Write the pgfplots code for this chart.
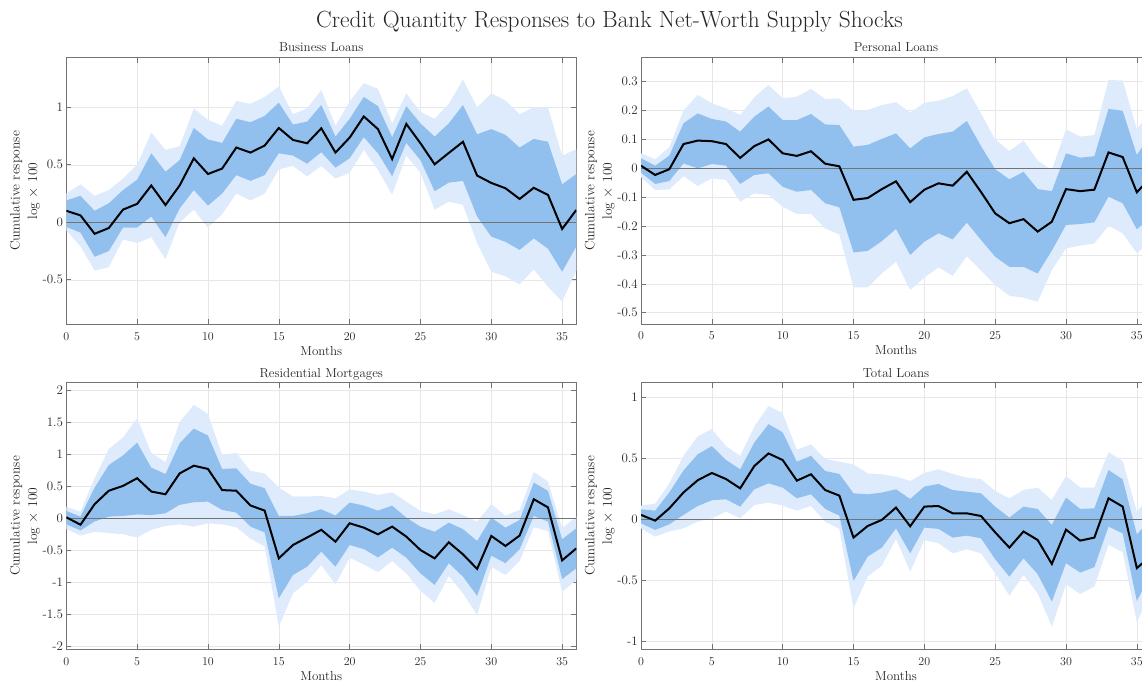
\documentclass[border=0pt]{standalone}
\usepackage{pgfplots}
\pgfplotsset{compat=1.18}
\definecolor{bandlight}{RGB}{222,235,253}
\definecolor{banddark}{RGB}{146,192,238}
\definecolor{axgray}{RGB}{115,115,115}
\definecolor{gridgray}{RGB}{231,231,231}
\definecolor{txt}{RGB}{38,38,38}

\pgfplotsset{
  resp/.style={
    scale only axis, width=510pt, height=266.6pt,
    xmin=0, xmax=36, xtick={0,5,...,35},
    grid=major, major grid style={draw=gridgray, line width=0.5pt},
    axis line style={draw=axgray, line width=0.6pt},
    tick style={draw=axgray, line width=0.6pt},
    tick align=inside, major tick length=5pt,
    ticklabel style={font=\fontsize{13}{15}\selectfont, text=txt},
    xticklabel style={anchor=base, yshift=-15.7pt},
    yticklabel style={anchor=east, inner sep=0pt, xshift=-3pt},
    title style={font=\fontsize{13}{15}\selectfont, text=txt, anchor=base, yshift=-0.3pt},
    xlabel={Months},
    xlabel style={font=\fontsize{13}{15}\selectfont, text=txt, at={(axis description cs:0.5,0)}, anchor=base, yshift=-30.7pt},
    ylabel={Cumulative response\\log $\times$ 100},
    ylabel style={font=\fontsize{13.5}{17.5}\selectfont, text=txt, align=center, at={(axis description cs:-0.081,0.5)}, anchor=center},
  },
  light/.style={fill=bandlight, draw=none},
  dark/.style={fill=banddark, draw=none},
  zero/.style={axgray, line width=0.6pt},
  med/.style={black, line width=2pt},
}

\begin{document}
\begin{tikzpicture}

\node[font=\fontsize{23.4}{28}\selectfont, text=txt, anchor=base] at (609.5pt,-28pt)
  {Credit Quantity Responses to Bank Net-Worth Supply Shocks};

% ---------------- Business Loans ----------------
\begin{axis}[resp, at={(66.3pt,-57.7pt)}, anchor=north west,
  title={Business Loans}, ymin=-0.887, ymax=1.431,
  ytick={-0.5,0,0.5,1}, yticklabels={-0.5,0,0.5,1}]
% 90% band: upper bound forward, lower bound backward
\addplot[light] coordinates {
(0,0.25)(1,0.33)(2,0.23)(3,0.28)(4,0.38)(5,0.50)(6,0.78)(7,0.63)(8,0.66)(9,0.99)
(10,0.89)(11,0.84)(12,1.055)(13,1.03)(14,1.09)(15,1.18)(16,0.94)(17,0.99)(18,1.15)(19,0.84)
(20,1.05)(21,1.21)(22,1.16)(23,0.86)(24,1.12)(25,0.96)(26,0.90)(27,1.03)(28,1.24)(29,1.0)
(30,1.12)(31,1.06)(32,0.94)(33,1.0)(34,1.0)(35,0.58)(36,0.635)
(36,-0.42)(35,-0.69)(34,-0.56)(33,-0.41)(32,-0.54)(31,-0.47)(30,-0.43)(29,-0.18)(28,0.15)(27,0.18)
(26,0.11)(25,0.43)(24,0.58)(23,0.24)(22,0.455)(21,0.63)(20,0.43)(19,0.38)(18,0.49)(17,0.40)
(16,0.49)(15,0.46)(14,0.25)(13,0.19)(12,0.25)(11,0.07)(10,-0.046)(9,0.11)(8,0.00)(7,-0.32)
(6,-0.13)(5,-0.18)(4,-0.15)(3,-0.39)(2,-0.42)(1,-0.21)(0,-0.07)} -- cycle;
% 68% band
\addplot[dark] coordinates {
(0,0.19)(1,0.23)(2,0.10)(3,0.165)(4,0.28)(5,0.37)(6,0.60)(7,0.44)(8,0.54)(9,0.82)
(10,0.72)(11,0.69)(12,0.90)(13,0.87)(14,0.925)(15,1.04)(16,0.85)(17,0.875)(18,1.02)(19,0.745)
(20,0.90)(21,1.09)(22,1.01)(23,0.74)(24,1.01)(25,0.86)(26,0.745)(27,0.86)(28,1.02)(29,0.765)
(30,0.81)(31,0.76)(32,0.65)(33,0.725)(34,0.70)(35,0.33)(36,0.42)
(36,-0.21)(35,-0.43)(34,-0.23)(33,-0.14)(32,-0.24)(31,-0.17)(30,-0.125)(29,0.05)(28,0.36)(27,0.345)
(26,0.27)(25,0.54)(24,0.69)(23,0.40)(22,0.60)(21,0.74)(20,0.556)(19,0.475)(18,0.61)(17,0.51)
(16,0.58)(15,0.60)(14,0.41)(13,0.36)(12,0.41)(11,0.25)(10,0.145)(9,0.28)(8,0.12)(7,-0.13)
(6,0.05)(5,-0.046)(4,-0.046)(3,-0.25)(2,-0.30)(1,-0.09)(0,-0.04)} -- cycle;
\addplot[zero] coordinates {(0,0) (36,0)};
\addplot[med] coordinates {
(0,0.10)(1,0.06)(2,-0.10)(3,-0.05)(4,0.11)(5,0.16)(6,0.32)(7,0.15)(8,0.32)(9,0.556)
(10,0.42)(11,0.467)(12,0.65)(13,0.606)(14,0.667)(15,0.82)(16,0.716)(17,0.687)(18,0.817)(19,0.606)
(20,0.736)(21,0.92)(22,0.81)(23,0.55)(24,0.855)(25,0.687)(26,0.504)(27,0.603)(28,0.70)(29,0.406)
(30,0.342)(31,0.296)(32,0.203)(33,0.30)(34,0.238)(35,-0.058)(36,0.107)};
\end{axis}

% ---------------- Personal Loans ----------------
\begin{axis}[resp, at={(641pt,-57.7pt)}, anchor=north west,
  title={Personal Loans}, ymin=-0.540, ymax=0.383,
  ytick={-0.5,-0.4,-0.3,-0.2,-0.1,0,0.1,0.2,0.3},
  yticklabels={-0.5,-0.4,-0.3,-0.2,-0.1,0,0.1,0.2,0.3}]
\addplot[light] coordinates {
(0,0.052)(1,0.031)(2,0.073)(3,0.20)(4,0.254)(5,0.225)(6,0.208)(7,0.185)(8,0.246)(9,0.289)
(10,0.242)(11,0.248)(12,0.275)(13,0.24)(14,0.242)(15,0.199)(16,0.202)(17,0.219)(18,0.229)(19,0.193)
(20,0.227)(21,0.234)(22,0.25)(23,0.277)(24,0.19)(25,0.10)(26,0.06)(27,0.096)(28,0.027)(29,-0.006)
(30,0.135)(31,0.11)(32,0.115)(33,0.306)(34,0.304)(35,0.135)(36,0.20)
(36,-0.25)(35,-0.294)(34,-0.225)(33,-0.199)(32,-0.26)(31,-0.268)(30,-0.277)(29,-0.352)(28,-0.462)(27,-0.448)
(26,-0.441)(25,-0.404)(24,-0.354)(23,-0.304)(22,-0.372)(21,-0.343)(20,-0.378)(19,-0.421)(18,-0.323)(17,-0.364)
(16,-0.412)(15,-0.412)(14,-0.229)(13,-0.208)(12,-0.158)(11,-0.158)(10,-0.133)(9,-0.092)(8,-0.087)(7,-0.115)
(6,-0.04)(5,-0.035)(4,-0.061)(3,-0.027)(2,-0.073)(1,-0.075)(0,-0.031)} -- cycle;
\addplot[dark] coordinates {
(0,0.035)(1,0.009)(2,0.044)(3,0.156)(4,0.19)(5,0.171)(6,0.162)(7,0.127)(8,0.179)(9,0.214)
(10,0.167)(11,0.167)(12,0.188)(13,0.152)(14,0.15)(15,0.075)(16,0.081)(17,0.102)(18,0.121)(19,0.069)
(20,0.107)(21,0.119)(22,0.127)(23,0.164)(24,0.077)(25,-0.003)(26,-0.038)(27,-0.012)(28,-0.072)(29,-0.079)
(30,0.052)(31,0.037)(32,0.042)(33,0.206)(34,0.199)(35,0.046)(36,0.12)
(36,-0.17)(35,-0.211)(34,-0.121)(33,-0.098)(32,-0.187)(31,-0.193)(30,-0.196)(29,-0.285)(28,-0.364)(27,-0.341)
(26,-0.341)(25,-0.306)(24,-0.248)(23,-0.188)(22,-0.246)(21,-0.225)(20,-0.254)(19,-0.30)(18,-0.21)(17,-0.252)
(16,-0.286)(15,-0.291)(14,-0.135)(13,-0.121)(12,-0.075)(11,-0.081)(10,-0.064)(9,-0.017)(8,-0.023)(7,-0.054)
(6,0.009)(5,0.015)(4,0.0)(3,0.017)(2,-0.044)(1,-0.054)(0,-0.015)} -- cycle;
\addplot[zero] coordinates {(0,0) (36,0)};
\addplot[med] coordinates {
(0,0.009)(1,-0.023)(2,-0.003)(3,0.084)(4,0.096)(5,0.094)(6,0.084)(7,0.036)(8,0.077)(9,0.10)
(10,0.052)(11,0.043)(12,0.059)(13,0.016)(14,0.007)(15,-0.109)(16,-0.103)(17,-0.072)(18,-0.045)(19,-0.117)
(20,-0.074)(21,-0.052)(22,-0.06)(23,-0.012)(24,-0.082)(25,-0.156)(26,-0.19)(27,-0.176)(28,-0.219)(29,-0.185)
(30,-0.072)(31,-0.079)(32,-0.074)(33,0.055)(34,0.039)(35,-0.083)(36,-0.03)};
\end{axis}

% ---------------- Residential Mortgages ----------------
\begin{axis}[resp, at={(66.3pt,-382.7pt)}, anchor=north west,
  title={Residential Mortgages}, ymin=-2.044, ymax=2.115,
  ytick={-2,-1.5,-1,-0.5,0,0.5,1,1.5,2},
  yticklabels={-2,-1.5,-1,-0.5,0,0.5,1,1.5,2}]
\addplot[light] coordinates {
(0,0.18)(1,0.104)(2,0.625)(3,1.08)(4,1.26)(5,1.56)(6,1.02)(7,0.875)(8,1.5)(9,1.77)
(10,1.625)(11,0.99)(12,1.02)(13,0.74)(14,0.70)(15,0.48)(16,0.34)(17,0.34)(18,0.35)(19,0.31)
(20,0.45)(21,0.417)(22,0.365)(23,0.406)(24,0.26)(25,0.115)(26,0.0625)(27,0.14)(28,0.052)(29,-0.052)
(30,0.22)(31,0.042)(32,0.13)(33,0.72)(34,0.573)(35,-0.156)(36,0.026)
(36,-0.964)(35,-1.146)(34,-0.198)(33,-0.14)(32,-0.667)(31,-0.885)(30,-0.755)(29,-1.51)(28,-1.17)(27,-0.90)
(26,-1.32)(25,-1.13)(24,-0.86)(23,-0.667)(22,-0.84)(21,-0.72)(20,-0.615)(19,-1.03)(18,-0.73)(17,-0.99)
(16,-1.17)(15,-1.69)(14,-0.44)(13,-0.32)(12,-0.14)(11,-0.094)(10,-0.078)(9,-0.13)(8,-0.094)(7,-0.12)
(6,-0.18)(5,-0.30)(4,-0.25)(3,-0.23)(2,-0.21)(1,-0.27)(0,-0.167)} -- cycle;
\addplot[dark] coordinates {
(0,0.115)(1,0.026)(2,0.48)(3,0.83)(4,0.98)(5,1.18)(6,0.79)(7,0.69)(8,1.17)(9,1.40)
(10,1.29)(11,0.77)(12,0.78)(13,0.54)(14,0.47)(15,0.036)(16,0.036)(17,0.078)(18,0.14)(19,0.042)
(20,0.245)(21,0.198)(22,0.12)(23,0.198)(24,0.01)(25,-0.13)(26,-0.21)(27,-0.068)(28,-0.17)(29,-0.354)
(30,0.01)(31,-0.146)(32,-0.026)(33,0.557)(34,0.427)(35,-0.328)(36,-0.156)
(36,-0.78)(35,-0.948)(34,-0.052)(33,0.036)(32,-0.484)(31,-0.70)(30,-0.583)(29,-1.21)(28,-0.91)(27,-0.70)
(26,-1.04)(25,-0.86)(24,-0.615)(23,-0.458)(22,-0.61)(21,-0.48)(20,-0.417)(19,-0.755)(18,-0.52)(17,-0.755)
(16,-0.885)(15,-1.25)(14,-0.22)(13,-0.13)(12,0.089)(11,0.13)(10,0.26)(9,0.25)(8,0.21)(7,0.078)
(6,0.05)(5,0.06)(4,0.036)(3,0.026)(2,-0.05)(1,-0.19)(0,-0.094)} -- cycle;
\addplot[zero] coordinates {(0,0) (36,0)};
\addplot[med] coordinates {
(0,0.016)(1,-0.10)(2,0.22)(3,0.43)(4,0.505)(5,0.625)(6,0.417)(7,0.375)(8,0.70)(9,0.82)
(10,0.77)(11,0.44)(12,0.43)(13,0.20)(14,0.12)(15,-0.625)(16,-0.417)(17,-0.30)(18,-0.18)(19,-0.365)
(20,-0.078)(21,-0.146)(22,-0.25)(23,-0.13)(24,-0.286)(25,-0.495)(26,-0.625)(27,-0.375)(28,-0.5625)(29,-0.79)
(30,-0.276)(31,-0.432)(32,-0.27)(33,0.297)(34,0.17)(35,-0.656)(36,-0.47)};
\end{axis}

% ---------------- Total Loans ----------------
\begin{axis}[resp, at={(641pt,-382.7pt)}, anchor=north west,
  title={Total Loans}, ymin=-1.066, ymax=1.12,
  ytick={-1,-0.5,0,0.5,1}, yticklabels={-1,-0.5,0,0.5,1}]
\addplot[light] coordinates {
(0,0.112)(1,0.128)(2,0.295)(3,0.52)(4,0.68)(5,0.74)(6,0.60)(7,0.52)(8,0.76)(9,0.93)
(10,0.87)(11,0.57)(12,0.615)(13,0.495)(14,0.473)(15,0.45)(16,0.377)(17,0.369)(18,0.35)(19,0.314)
(20,0.38)(21,0.41)(22,0.372)(23,0.342)(24,0.33)(25,0.232)(26,0.172)(27,0.24)(28,0.26)(29,0.158)
(30,0.355)(31,0.26)(32,0.26)(33,0.55)(34,0.478)(35,0.063)(36,0.2)
(36,-0.6)(35,-0.844)(34,-0.27)(33,-0.21)(32,-0.552)(31,-0.612)(30,-0.533)(29,-0.88)(28,-0.607)(27,-0.456)
(26,-0.626)(25,-0.443)(24,-0.279)(23,-0.246)(22,-0.279)(21,-0.197)(20,-0.17)(19,-0.429)(18,-0.161)(17,-0.38)
(16,-0.47)(15,-0.73)(14,-0.079)(13,-0.019)(12,0.109)(11,0.071)(10,0.112)(9,0.137)(8,0.117)(7,0.008)
(6,0.063)(5,0.008)(4,-0.019)(3,-0.074)(2,-0.10)(1,-0.142)(0,-0.074)} -- cycle;
\addplot[dark] coordinates {
(0,0.082)(1,0.071)(2,0.221)(3,0.40)(4,0.533)(5,0.60)(6,0.486)(7,0.41)(8,0.63)(9,0.78)
(10,0.713)(11,0.473)(12,0.52)(13,0.396)(14,0.372)(15,0.213)(16,0.205)(17,0.219)(18,0.246)(19,0.167)
(20,0.268)(21,0.29)(22,0.24)(23,0.227)(24,0.213)(25,0.104)(26,0.014)(27,0.104)(28,0.085)(29,-0.046)
(30,0.178)(31,0.085)(32,0.09)(33,0.404)(34,0.328)(35,-0.123)(36,0.0)
(36,-0.45)(35,-0.67)(34,-0.115)(33,-0.06)(32,-0.393)(31,-0.437)(30,-0.36)(29,-0.675)(28,-0.45)(27,-0.32)
(26,-0.47)(25,-0.328)(24,-0.156)(23,-0.134)(22,-0.15)(21,-0.079)(20,-0.068)(19,-0.279)(18,-0.074)(17,-0.232)
(16,-0.306)(15,-0.505)(14,0.03)(13,0.085)(12,0.205)(11,0.172)(10,0.26)(9,0.295)(8,0.246)(7,0.104)
(6,0.164)(5,0.156)(4,0.109)(3,0.036)(2,-0.041)(1,-0.087)(0,-0.033)} -- cycle;
\addplot[zero] coordinates {(0,0) (36,0)};
\addplot[med] coordinates {
(0,0.036)(1,-0.011)(2,0.09)(3,0.22)(4,0.32)(5,0.38)(6,0.33)(7,0.254)(8,0.437)(9,0.54)
(10,0.486)(11,0.317)(12,0.369)(13,0.24)(14,0.194)(15,-0.15)(16,-0.055)(17,-0.005)(18,0.096)(19,-0.057)
(20,0.104)(21,0.109)(22,0.049)(23,0.049)(24,0.027)(25,-0.107)(26,-0.232)(27,-0.10)(28,-0.17)(29,-0.366)
(30,-0.085)(31,-0.175)(32,-0.15)(33,0.172)(34,0.104)(35,-0.40)(36,-0.3)};
\end{axis}

\pgfresetboundingbox
\path (0pt,0pt) rectangle (1142pt,-682pt);
\end{tikzpicture}
\end{document}
